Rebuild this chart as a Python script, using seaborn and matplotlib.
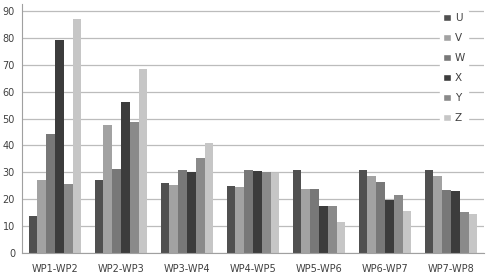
import numpy as np
import pandas as pd
import matplotlib
matplotlib.use("Agg")
import matplotlib.pyplot as plt
import seaborn as sns
from matplotlib.patches import Patch

categories = ["WP1-WP2", "WP2-WP3", "WP3-WP4", "WP4-WP5", "WP5-WP6", "WP6-WP7", "WP7-WP8"]
U = [13.6, 27.3, 25.9, 24.9, 31.0, 31.0, 31.0]
V = [27.3, 47.7, 25.2, 24.5, 23.8, 28.5, 28.5]
W = [44.3, 31.3, 30.9, 30.9, 23.8, 26.4, 23.5]
X = [79.2, 56.1, 30.2, 30.5, 17.6, 19.8, 22.9]
Y = [25.7, 48.6, 35.5, 30.1, 17.6, 21.7, 15.4]
Z = [87.2, 68.3, 40.9, 29.9, 11.7, 15.8, 14.5]
series_names = ["U", "V", "W", "X", "Y", "Z"]
series_values = [U, V, W, X, Y, Z]
colors = ["#505050", "#a2a2a2", "#787878", "#3c3c3c", "#8a8a8a", "#c6c6c6"]
yticks = [0, 10, 20, 30, 40, 50, 60, 70, 80, 90]

rows = []
for name, vals in zip(series_names, series_values):
    for c, v in zip(categories, vals):
        rows.append({"cat": c, "series": name, "value": v})
df = pd.DataFrame(rows)

sns.set_style("white")
plt.rcParams["font.family"] = ["DejaVu Sans"]

fig = plt.figure(figsize=(4.86, 2.78), dpi=100)
ax = fig.add_axes([22/486, 25/278, 462/486, 249/278])

sns.barplot(data=df, x="cat", y="value", hue="series", order=categories,
            hue_order=series_names, palette=colors, width=0.8, dodge=True,
            saturation=1, ax=ax, legend=False, errorbar=None, linewidth=0)

ax.set_ylim(0, 92.6)
ax.set_xlim(-0.5, len(categories) - 0.5)
ax.set_yticks(yticks)
ax.set_yticklabels([str(t) for t in yticks], fontsize=7, color="#404040")
ax.set_xticks(range(len(categories)))
ax.set_xticklabels(categories, fontsize=7, color="#404040")
ax.set_xlabel("")
ax.set_ylabel("")
ax.yaxis.grid(True, color="#bcbcbc", linewidth=0.9)
ax.set_axisbelow(True)
for s in ["top", "right"]:
    ax.spines[s].set_visible(False)
ax.spines["left"].set_color("#a0a0a0")
ax.spines["bottom"].set_color("#a0a0a0")
ax.tick_params(axis="x", length=0, pad=8)
ax.tick_params(axis="y", length=3, color="#a0a0a0", pad=2)
ax.set_xticks(np.arange(-0.5, len(categories), 1.0), minor=True)
ax.tick_params(axis="x", which="minor", length=4, color="#a0a0a0")

handles = [Patch(facecolor=c, label=n) for n, c in zip(series_names, colors)]
leg = ax.legend(handles=handles, loc="upper left", bbox_to_anchor=(0.905, 0.975),
                frameon=True, fontsize=7.5, handlelength=0.7, handleheight=0.7,
                handletextpad=0.4, labelspacing=0.95, borderpad=0.3,
                borderaxespad=0)
leg.get_frame().set_facecolor("white")
leg.get_frame().set_edgecolor("white")
leg.get_frame().set_alpha(1)
for t in leg.get_texts():
    t.set_color("#404040")

fig.savefig("out.png", dpi=100, facecolor="white")
